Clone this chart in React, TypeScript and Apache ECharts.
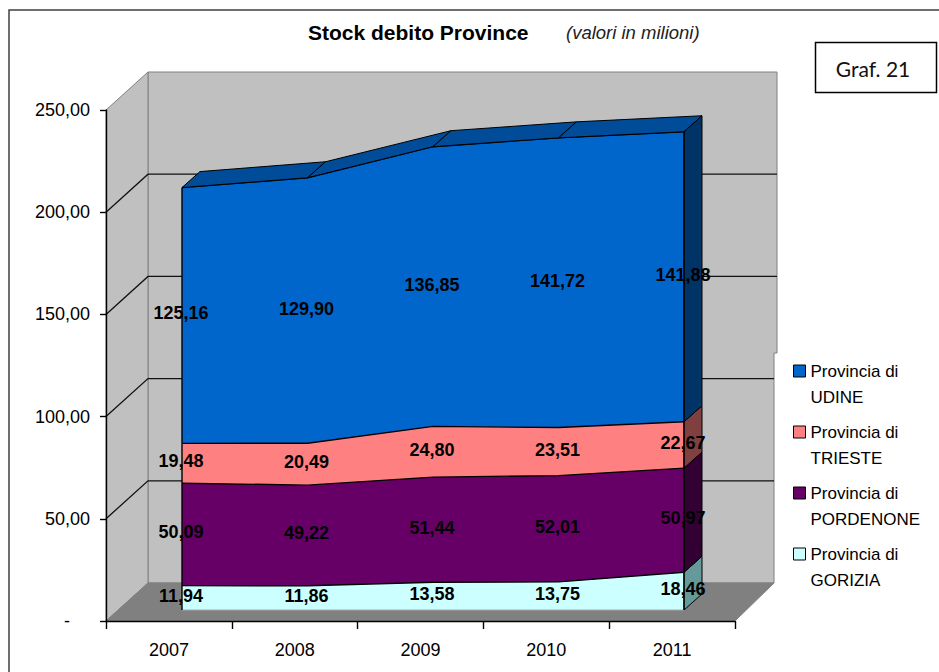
import React, { useEffect, useRef } from "react";
import * as echarts from "echarts";

// Stock of provincial debt, millions of euro, stacked bottom to top.
const years = ["2007", "2008", "2009", "2010", "2011"];
const gorizia = [11.94, 11.86, 13.58, 13.75, 18.46];
const pordenone = [50.09, 49.22, 51.44, 52.01, 50.97];
const trieste = [19.48, 20.49, 24.8, 23.51, 22.67];
const udine = [125.16, 129.9, 136.85, 141.72, 141.88];

const seriesNames = [
  "Provincia di\nGORIZIA",
  "Provincia di\nPORDENONE",
  "Provincia di\nTRIESTE",
  "Provincia di\nUDINE",
];
const seriesValues = [gorizia, pordenone, trieste, udine];
const frontColors = ["#CCFFFF", "#660066", "#FF8080", "#0066CC"];
const sideColors = ["#669999", "#330033", "#804040", "#003366"];
const axisTicks = [0, 50, 100, 150, 200, 250];

const FONT = '"Liberation Sans", Arial, sans-serif';
const comma = (v: number) => v.toFixed(2).replace(".", ",");

// Oblique offsets of the box and of the stacked solid.
const WALL_DX = 42;
const WALL_DY = -38;
const SOLID_DX = 18;
const SOLID_DY = -16;
const LEGEND_NOTCH_Y = 353;
const NOTCH = 3;

// Cumulative lower and upper bounds of each band at each year.
const bands = seriesValues.map((vals, s) =>
  vals.map((v, i) => {
    let low = 0;
    for (let k = 0; k < s; k++) low += seriesValues[k][i];
    return { low, high: low + v, value: v };
  }),
);
const totals = years.map((_, i) => bands[3][i].high);

const topFaceData = years.slice(0, -1).map((_, i) => [i, totals[i], i + 1, totals[i + 1]]);
const sideFaceData = bands.map((b, s) => [years.length - 1, b[years.length - 1].low, b[years.length - 1].high, s]);
const labelData = bands.flatMap((b) => b.map((d, i) => [i, (d.low + d.high) / 2, d.value]));

function poly(points: number[][], fill: string, stroke: string, lineWidth = 1) {
  return { type: "polygon", shape: { points }, style: { fill, stroke, lineWidth } };
}

// Back wall, side wall, floor and the gridlines folded across them.
function renderBox(params: any, api: any) {
  const cs = params.coordSys;
  const l = cs.x;
  const r = cs.x + cs.width;
  const t = cs.y;
  const b = cs.y + cs.height;
  const tick = api.value(1);
  const children: any[] = [];
  if (tick === 0) {
    const bx = l + WALL_DX;
    const ex = r + WALL_DX;
    const topY = t + WALL_DY;
    const floorY = b + WALL_DY;
    children.push(
      poly(
        [
          [bx, topY],
          [ex, topY],
          [ex, LEGEND_NOTCH_Y],
          [ex - NOTCH, LEGEND_NOTCH_Y],
          [ex - NOTCH, floorY],
          [bx, floorY],
        ],
        "#C0C0C0",
        "#808080",
      ),
      poly([[l, t], [bx, topY], [bx, floorY], [l, b]], "#C0C0C0", "#808080"),
      poly([[l, b], [bx, floorY], [ex - NOTCH, floorY], [r, b]], "#808080", "#808080"),
    );
  } else if (tick < 250) {
    const y = api.coord([0, tick])[1];
    const backY = y + WALL_DY;
    const end = r + WALL_DX - (backY > LEGEND_NOTCH_Y ? NOTCH : 0);
    const style = { stroke: "#111", lineWidth: 1.3, fill: "none" };
    children.push(
      { type: "polyline", shape: { points: [[l, y], [l + WALL_DX, backY], [end, backY]] }, style },
    );
  }
  return { type: "group", children };
}

// Upper surface of the solid, one facet between each pair of years.
function renderTopFace(_: any, api: any) {
  const a = api.coord([api.value(0), api.value(1)]);
  const b = api.coord([api.value(2), api.value(3)]);
  return poly(
    [a, b, [b[0] + SOLID_DX, b[1] + SOLID_DY], [a[0] + SOLID_DX, a[1] + SOLID_DY]],
    "#004C99",
    "#000",
  );
}

// Right-hand end of the solid, one facet per band.
function renderSideFace(_: any, api: any) {
  const lo = api.coord([api.value(0), api.value(1)]);
  const hi = api.coord([api.value(0), api.value(2)]);
  return poly(
    [lo, hi, [hi[0] + SOLID_DX, hi[1] + SOLID_DY], [lo[0] + SOLID_DX, lo[1] + SOLID_DY]],
    sideColors[api.value(3)],
    "#000",
  );
}

// Vertical front edges of the solid and its base line.
function renderEdges(params: any, api: any) {
  const first = api.coord([0, 0]);
  const last = api.coord([years.length - 1, 0]);
  const firstTop = api.coord([0, totals[0]]);
  const lastTop = api.coord([years.length - 1, totals[years.length - 1]]);
  const black = { stroke: "#000", lineWidth: 1.4 };
  return {
    type: "group",
    children: [
      { type: "line", shape: { x1: first[0], y1: first[1], x2: last[0], y2: last[1] }, style: { stroke: "#A8A8A8", lineWidth: 1 } },
      { type: "line", shape: { x1: first[0], y1: first[1], x2: firstTop[0], y2: firstTop[1] }, style: black },
      { type: "line", shape: { x1: last[0], y1: last[1], x2: lastTop[0], y2: lastTop[1] }, style: black },
    ],
  };
}

function renderValueLabel(_: any, api: any) {
  const p = api.coord([api.value(0), api.value(1)]);
  return {
    type: "text",
    style: {
      text: comma(api.value(2)),
      x: p[0] - 1,
      y: p[1] - 2,
      align: "center",
      verticalAlign: "middle",
      fill: "#000",
      font: `bold 18px ${FONT}`,
    },
  };
}

function buildOption() {
  const areaSeries = seriesNames.map((name, s) => ({
    name,
    type: "line",
    stack: "debito",
    xAxisIndex: 1,
    yAxisIndex: 1,
    data: seriesValues[s],
    symbol: "none",
    z: 2,
    itemStyle: { color: frontColors[s] },
    lineStyle: { color: "#000", width: 1.4 },
    areaStyle: { color: frontColors[s], opacity: 1 },
  }));
  return {
    animation: false,
    backgroundColor: "#fff",
    title: [
      {
        text: "Stock debito Province",
        left: 308,
        top: 22,
        padding: 0,
        textStyle: { fontFamily: FONT, fontSize: 21, fontWeight: "bold", color: "#000" },
      },
      {
        text: "(valori in milioni)",
        left: 566,
        top: 23,
        padding: 0,
        textStyle: { fontFamily: FONT, fontSize: 18.5, fontStyle: "italic", fontWeight: "normal", color: "#222" },
      },
    ],
    grid: [
      { left: 106, right: 204, top: 110, bottom: 51 },
      { left: 182, right: 255, top: 99, bottom: 62 },
    ],
    xAxis: [
      {
        type: "category",
        gridIndex: 0,
        data: years,
        boundaryGap: true,
        z: 5,
        axisLine: { lineStyle: { color: "#000", width: 1.4 } },
        axisTick: { show: true, length: 8, alignWithLabel: false, lineStyle: { color: "#000", width: 1.4 } },
        axisLabel: { color: "#000", fontFamily: FONT, fontSize: 18, margin: 20, interval: 0 },
      },
      { type: "category", gridIndex: 1, data: years, boundaryGap: false, show: false },
    ],
    yAxis: [
      {
        type: "value",
        gridIndex: 0,
        min: 0,
        max: 250,
        interval: 50,
        z: 5,
        splitLine: { show: false },
        axisLine: { show: true, lineStyle: { color: "#000", width: 1.4 } },
        axisTick: { show: true, length: 6, lineStyle: { color: "#000", width: 1.4 } },
        axisLabel: {
          color: "#000",
          fontFamily: FONT,
          fontSize: 18,
          margin: 16,
          formatter: (v: number) => (v === 0 ? "-\u00a0\u00a0\u00a0\u00a0" : comma(v)),
        },
      },
      { type: "value", gridIndex: 1, min: 0, max: 250, interval: 50, show: false, splitLine: { show: false } },
    ],
    legend: {
      orient: "vertical",
      left: 793,
      top: 306,
      padding: 0,
      itemGap: -69,
      itemWidth: 12,
      itemHeight: 12,
      icon: "rect",
      selectedMode: false,
      data: [...seriesNames].reverse(),
      itemStyle: { borderColor: "#000", borderWidth: 1 },
      // Blank lines around the name centre each icon on the label's first line.
      formatter: (name: string) => `\n\n${name}\n`,
      textStyle: { fontFamily: FONT, fontSize: 17, lineHeight: 26, color: "#000" },
    },
    series: [
      {
        type: "custom",
        xAxisIndex: 0,
        yAxisIndex: 0,
        z: 1,
        silent: true,
        data: axisTicks.map((t) => [0, t]),
        renderItem: renderBox,
      },
      ...areaSeries,
      { type: "custom", xAxisIndex: 1, yAxisIndex: 1, z: 3, silent: true, data: topFaceData, renderItem: renderTopFace },
      { type: "custom", xAxisIndex: 1, yAxisIndex: 1, z: 3, silent: true, data: sideFaceData, renderItem: renderSideFace },
      { type: "custom", xAxisIndex: 1, yAxisIndex: 1, z: 4, silent: true, data: [[0, 0]], renderItem: renderEdges },
      { type: "custom", xAxisIndex: 1, yAxisIndex: 1, z: 6, silent: true, data: labelData, renderItem: renderValueLabel },
    ],
    graphic: [
      // Frame around the figure, open towards the page edges.
      { type: "polyline", shape: { points: [[9, 672], [9, 10], [939, 10]] }, style: { fill: "none", stroke: "#404040", lineWidth: 1.5 } },
      { type: "rect", shape: { x: 815.5, y: 42.5, width: 121, height: 50 }, style: { fill: "#fff", stroke: "#000", lineWidth: 1.5 } },
      {
        type: "text",
        style: {
          text: "Graf. 21",
          x: 873,
          y: 68,
          align: "center",
          verticalAlign: "middle",
          fill: "#111",
          font: "21px Lato, sans-serif",
        },
      },
    ],
  };
}

export default function App() {
  const ref = useRef<HTMLDivElement>(null);
  useEffect(() => {
    const chart = echarts.init(ref.current!, undefined, { renderer: "svg" });
    chart.setOption(buildOption() as any);
    return () => chart.dispose();
  }, []);
  return <div ref={ref} style={{ position: "fixed", left: 0, top: 0, width: 939, height: 672 }} />;
}
